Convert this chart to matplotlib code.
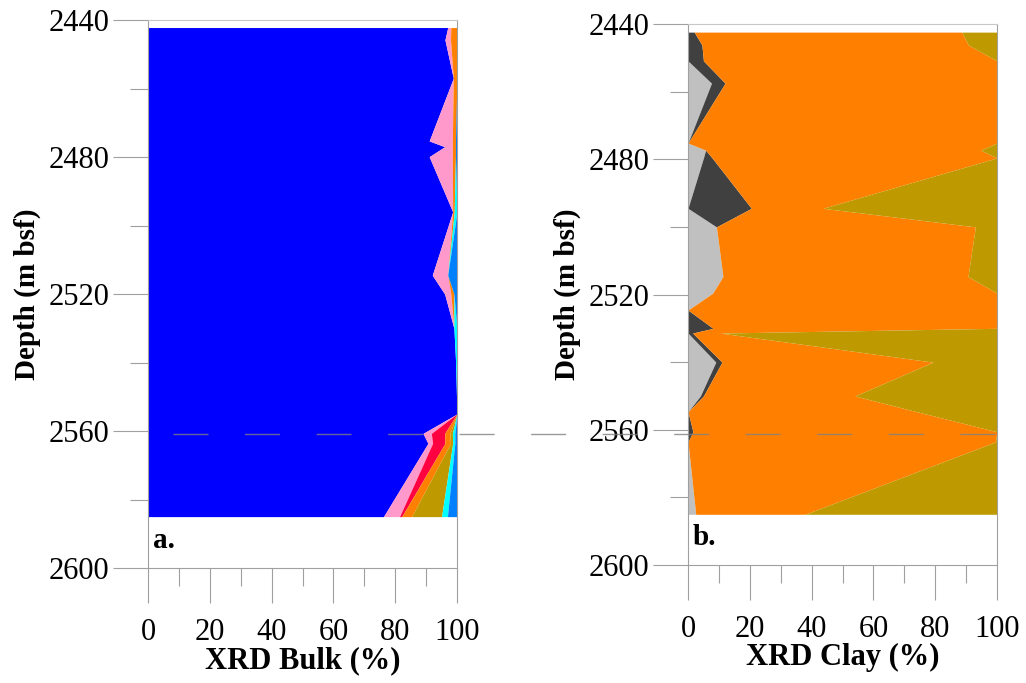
import matplotlib
matplotlib.use("Agg")
import matplotlib.pyplot as plt
import numpy as np
from matplotlib.lines import Line2D
from matplotlib.ticker import MultipleLocator

plt.rcParams["font.family"] = ["Liberation Serif", "DejaVu Serif"]

# --- bulk XRD (%), per sample depth ---
bulk_depth = [2442.2, 2445.8, 2457.0, 2475.3, 2477.0, 2479.9, 2496.0, 2514.5,
              2520.0, 2530.0, 2539.0, 2555.0, 2560.7, 2563.6, 2585.0]
bulk_blue = [97.0, 96.1, 98.8, 91.0, 96.0, 91.0, 98.6, 92.0, 96.0, 99.0, 99.5, 100.0, 89.0, 90.6, 76.2]
bulk_pink = [1.0, 1.8, 0.0, 7.5, 2.5, 7.5, 0.0, 5.0, 2.0, 0.0, 0.0, 0.0, 2.7, 1.5, 5.2]
bulk_red = [0.0, 0.0, 0.0, 0.0, 0.0, 0.0, 0.0, 0.0, 0.0, 0.0, 0.0, 0.0, 4.3, 4.0, 0.7]
bulk_orange = [2.0, 2.1, 1.2, 1.0, 1.0, 1.0, 0.5, 0.0, 1.0, 0.0, 0.0, 0.0, 1.7, 1.8, 3.2]
bulk_olive = [0.0, 0.0, 0.0, 0.0, 0.0, 0.0, 0.0, 0.0, 0.0, 0.0, 0.0, 0.0, 0.8, 0.7, 9.7]
bulk_cyan = [0.0, 0.0, 0.0, 0.0, 0.0, 0.0, 0.9, 0.0, 0.0, 1.0, 0.5, 0.0, 0.8, 0.7, 1.9]
bulk_blue2 = [0.0, 0.0, 0.0, 0.5, 0.5, 0.5, 0.0, 3.0, 1.0, 0.0, 0.0, 0.0, 0.7, 0.7, 3.1]
bulk_colors = ["#0000FF", "#FF99CC", "#FF0040", "#FF8000", "#BF9900", "#00FFFF", "#0080FF"]

# --- clay XRD (%), per sample depth ---
clay_depth = [2442.4, 2446.2, 2450.9, 2457.5, 2475.2, 2477.3, 2479.6, 2494.5, 2500.0, 2514.7,
              2519.6, 2524.6, 2530.0, 2531.4, 2540.0, 2550.0, 2554.7, 2560.6, 2563.6, 2585.0]
clay_light = [0.0, 0.0, 0.0, 7.6, 0.0, 5.7, 5.0, 0.0, 9.2, 11.3,
              8.0, 0.0, 0.0, 0.0, 9.0, 4.0, 0.0, 0.0, 0.0, 2.5]
clay_dark = [2.0, 4.5, 5.0, 4.4, 0.0, 0.0, 2.8, 20.5, 0.0, 0.0,
             0.0, 0.0, 8.1, 1.5, 2.0, 1.0, 0.0, 1.6, 0.0, 0.0]
clay_orange = [86.6, 86.2, 95.0, 88.0, 100.0, 89.0, 92.2, 23.2, 83.8, 79.3,
               92.0, 100.0, 91.9, 8.9, 68.3, 49.0, 74.2, 98.4, 99.5, 35.4]
clay_olive = [11.4, 9.3, 0.0, 0.0, 0.0, 5.3, 0.0, 56.3, 7.0, 9.4,
              0.0, 0.0, 0.0, 89.6, 20.7, 46.0, 25.8, 0.0, 0.5, 62.1]
clay_colors = ["#C0C0C0", "#404040", "#FF8000", "#BF9900"]

W, H = 1026, 683
fig = plt.figure(figsize=(W / 100, H / 100), dpi=100)


def px_axes(left, right, top, bottom):
    return fig.add_axes([left / W, 1 - bottom / H, (right - left) / W, (bottom - top) / H])


def stack(ax, depth, parts, colors):
    depth = np.array(depth)
    left = np.zeros(len(depth))
    for vals, c in zip(parts, colors):
        right = left + np.array(vals)
        ax.fill_betweenx(depth, left, right, color=c, linewidth=0)
        left = right


def style(ax, xlabel, tag):
    ax.set_xlim(0, 100)
    ax.set_ylim(2600, 2440)
    ax.xaxis.set_major_locator(MultipleLocator(20))
    ax.xaxis.set_minor_locator(MultipleLocator(10))
    ax.yaxis.set_major_locator(MultipleLocator(40))
    ax.yaxis.set_minor_locator(MultipleLocator(20))
    ax.tick_params(which="major", length=25, width=0.8, color="#a0a0a0", labelsize=22)
    ax.tick_params(which="minor", length=13, width=0.8, color="#a0a0a0")
    ax.tick_params(axis="x", which="major", pad=11)
    ax.tick_params(axis="y", which="major", pad=3)
    for s in ax.spines.values():
        s.set_color("#a0a0a0")
        s.set_linewidth(0.8)
    ax.spines["top"].set_color("#c8c8c8")
    ax.set_xlabel(xlabel, fontsize=22, fontweight="bold")
    ax.set_ylabel("Depth (m bsf)", fontsize=21, fontweight="bold")
    ax.xaxis.set_label_coords(0.5, -0.17)
    ax.xaxis.label.set_va("center")
    ax.yaxis.set_label_coords(-0.39, 0.5)
    ax.yaxis.label.set_va("center")
    ax.text(1.5, 2592, tag, fontsize=21, fontweight="bold", va="center", ha="left")


ax1 = px_axes(148, 457, 20, 568)
stack(ax1, bulk_depth,
      [bulk_blue, bulk_pink, bulk_red, bulk_orange, bulk_olive, bulk_cyan, bulk_blue2],
      bulk_colors)
style(ax1, "XRD Bulk (%)", "a.")

ax2 = px_axes(688, 997, 24, 565)
stack(ax2, clay_depth, [clay_light, clay_dark, clay_orange, clay_olive], clay_colors)
style(ax2, "XRD Clay (%)", "b.")

# dashed marker across both panels
y_dash = 1 - 434 / H
fig.add_artist(Line2D([173 / W, 1000 / W], [y_dash, y_dash], transform=fig.transFigure,
                      color="#808080", alpha=0.8, linewidth=1.0, linestyle=(0, (25.2, 26.3))))

fig.savefig("out.png", dpi=100)
